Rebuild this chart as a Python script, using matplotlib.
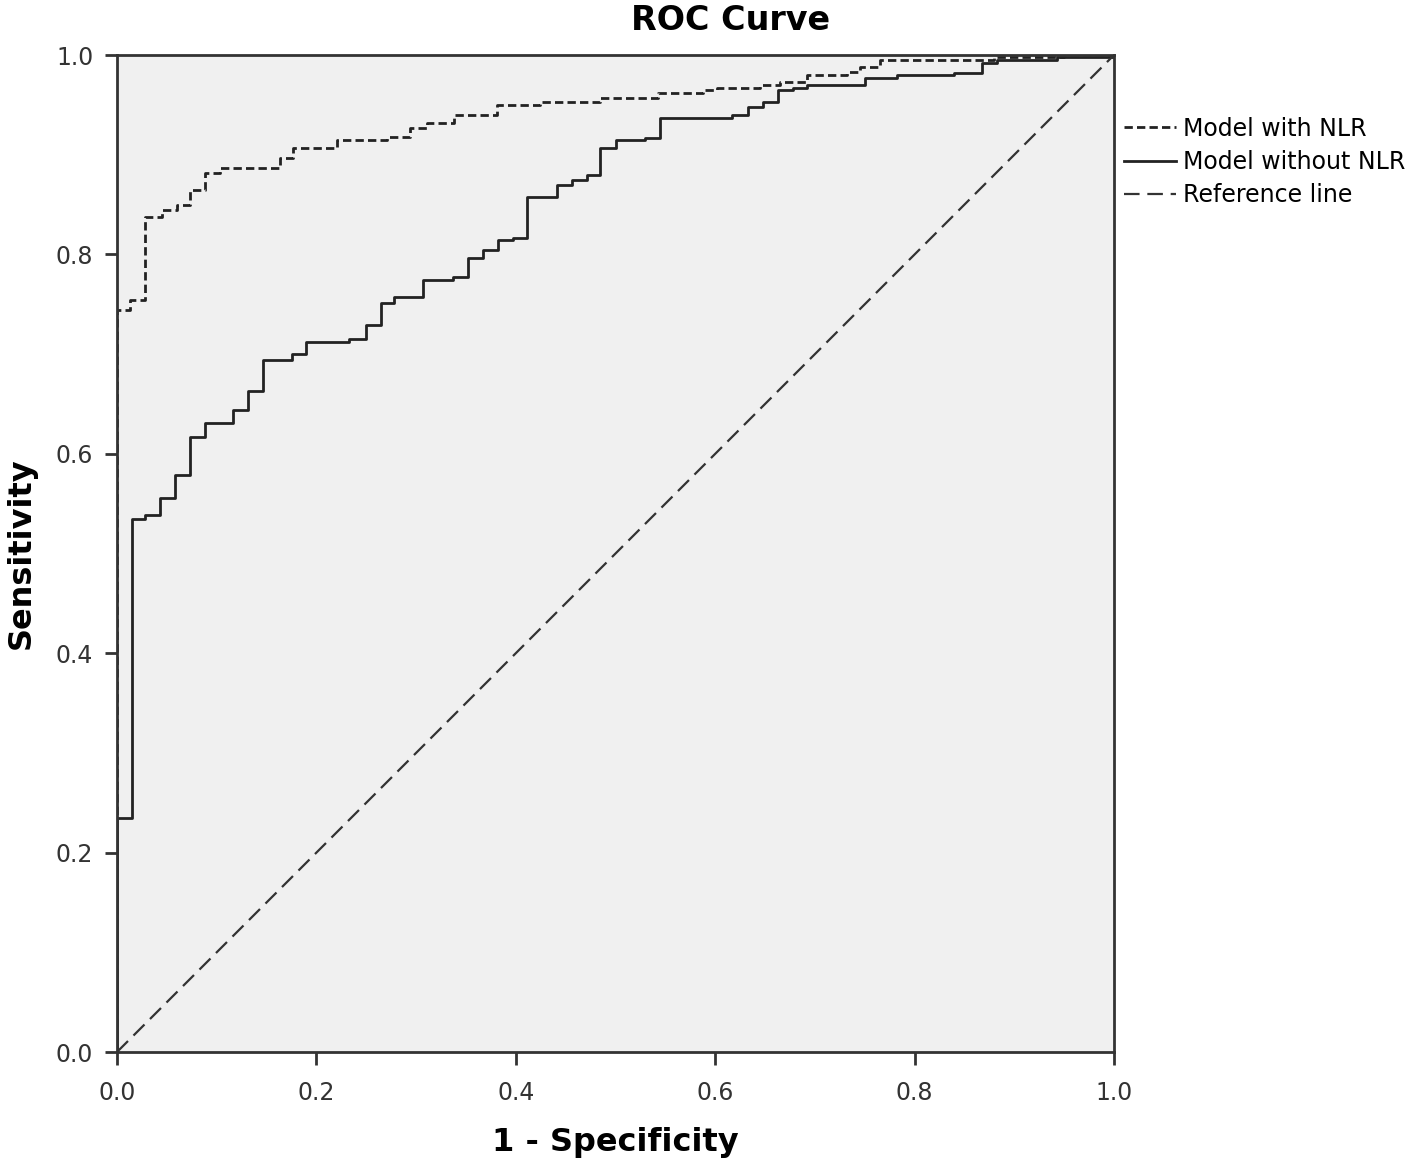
import matplotlib
matplotlib.use("Agg")
import matplotlib.pyplot as plt

# ROC step corners (1 - specificity, sensitivity)
fpr_nlr = [0.0, 0.0, 0.013, 0.028, 0.045, 0.060, 0.073, 0.088, 0.103, 0.164, 0.177,
           0.221, 0.271, 0.294, 0.311, 0.338, 0.381, 0.424, 0.484, 0.543, 0.588,
           0.602, 0.645, 0.665, 0.692, 0.732, 0.745, 0.765, 0.880, 0.950, 1.0]
tpr_nlr = [0.0, 0.744, 0.754, 0.838, 0.845, 0.850, 0.865, 0.882, 0.887, 0.897, 0.907,
           0.915, 0.918, 0.927, 0.932, 0.940, 0.950, 0.953, 0.957, 0.962, 0.965,
           0.967, 0.970, 0.973, 0.980, 0.983, 0.988, 0.995, 0.998, 1.0, 1.0]

fpr_base = [0.0, 0.0, 0.015, 0.028, 0.043, 0.058, 0.073, 0.088, 0.116, 0.131, 0.146,
            0.176, 0.190, 0.233, 0.250, 0.265, 0.278, 0.307, 0.337, 0.352, 0.367,
            0.382, 0.397, 0.411, 0.441, 0.456, 0.471, 0.484, 0.501, 0.530, 0.545,
            0.617, 0.633, 0.648, 0.663, 0.678, 0.692, 0.750, 0.782, 0.840, 0.868,
            0.883, 0.943, 1.0]
tpr_base = [0.0, 0.235, 0.535, 0.539, 0.556, 0.579, 0.617, 0.631, 0.644, 0.663, 0.694,
            0.700, 0.712, 0.715, 0.729, 0.751, 0.757, 0.774, 0.777, 0.796, 0.804,
            0.814, 0.817, 0.858, 0.870, 0.875, 0.880, 0.907, 0.915, 0.917, 0.937,
            0.940, 0.948, 0.953, 0.965, 0.967, 0.970, 0.977, 0.980, 0.982, 0.992,
            0.995, 0.998, 1.0]

ref_line = [0.0, 1.0]
ticks = [0.0, 0.2, 0.4, 0.6, 0.8, 1.0]

fig = plt.figure(figsize=(14.18, 11.64), dpi=100)
ax = fig.add_axes([0.0825, 0.0962, 0.7031, 0.8565])
ax.set_facecolor("#f0f0f0")

ax.plot(fpr_nlr, tpr_nlr, drawstyle="steps-post", color="#222222", lw=2,
        linestyle=(0, (3, 1.5)), label="Model with NLR")
ax.plot(fpr_base, tpr_base, drawstyle="steps-post", color="#222222", lw=2,
        label="Model without NLR")
ax.plot(ref_line, ref_line, color="#333333", lw=1.6,
        linestyle=(0, (7, 3.5)), label="Reference line")

ax.set_xlim(0, 1)
ax.set_ylim(0, 1)
ax.set_xticks(ticks)
ax.set_yticks(ticks)
ax.set_xticklabels([f"{t:.1f}" for t in ticks])
ax.set_yticklabels([f"{t:.1f}" for t in ticks])
ax.tick_params(direction="out", length=9, width=2, labelsize=17, colors="#333333")
ax.tick_params(axis="x", pad=12)
ax.tick_params(axis="y", pad=8)
for s in ax.spines.values():
    s.set_linewidth(2)
    s.set_color("#333333")

fig.text(0.515, 0.982, "ROC Curve", fontsize=24, fontweight="bold",
         ha="center", va="center")
ax.set_xlabel("1 - Specificity", fontsize=23, fontweight="bold", labelpad=16)
ax.set_ylabel("Sensitivity", fontsize=23, fontweight="bold", labelpad=14)

fig.legend(loc="upper left", bbox_to_anchor=(0.786, 0.908), frameon=False,
           fontsize=17, handlelength=2.2, handletextpad=0.3, labelspacing=0.4,
           borderaxespad=0)

fig.savefig("out.png", dpi=100)
